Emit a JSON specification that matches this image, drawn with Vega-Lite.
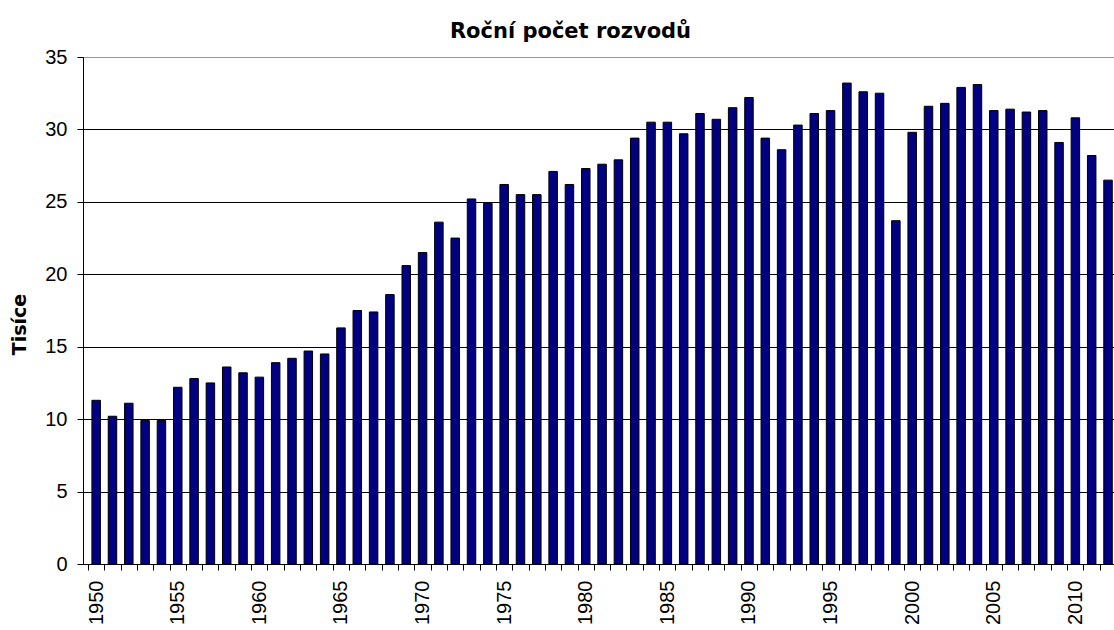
{
  "$schema": "https://vega.github.io/schema/vega-lite/v6.json",
  "autosize": {"type": "none"},
  "width": 1031,
  "height": 507,
  "padding": {"left": 83, "top": 57, "right": 0, "bottom": 66},
  "background": "white",
  "config": {"view": {"stroke": null}},
  "title": {
    "text": "Roční počet rozvodů",
    "font": "DejaVu Sans",
    "fontSize": 21,
    "fontWeight": "bold",
    "color": "black",
    "anchor": "middle",
    "frame": "group",
    "dx": -28,
    "baseline": "alphabetic",
    "offset": -12
  },
  "data": {
    "values": [
      {"year": 1950, "value": 11.3}, {"year": 1951, "value": 10.2}, {"year": 1952, "value": 11.1},
      {"year": 1953, "value": 9.9}, {"year": 1954, "value": 9.9}, {"year": 1955, "value": 12.2},
      {"year": 1956, "value": 12.8}, {"year": 1957, "value": 12.5}, {"year": 1958, "value": 13.6},
      {"year": 1959, "value": 13.2}, {"year": 1960, "value": 12.9}, {"year": 1961, "value": 13.9},
      {"year": 1962, "value": 14.2}, {"year": 1963, "value": 14.7}, {"year": 1964, "value": 14.5},
      {"year": 1965, "value": 16.3}, {"year": 1966, "value": 17.5}, {"year": 1967, "value": 17.4},
      {"year": 1968, "value": 18.6}, {"year": 1969, "value": 20.6}, {"year": 1970, "value": 21.5},
      {"year": 1971, "value": 23.6}, {"year": 1972, "value": 22.5}, {"year": 1973, "value": 25.2},
      {"year": 1974, "value": 24.9}, {"year": 1975, "value": 26.2}, {"year": 1976, "value": 25.5},
      {"year": 1977, "value": 25.5}, {"year": 1978, "value": 27.1}, {"year": 1979, "value": 26.2},
      {"year": 1980, "value": 27.3}, {"year": 1981, "value": 27.6}, {"year": 1982, "value": 27.9},
      {"year": 1983, "value": 29.4}, {"year": 1984, "value": 30.5}, {"year": 1985, "value": 30.5},
      {"year": 1986, "value": 29.7}, {"year": 1987, "value": 31.1}, {"year": 1988, "value": 30.7},
      {"year": 1989, "value": 31.5}, {"year": 1990, "value": 32.2}, {"year": 1991, "value": 29.4},
      {"year": 1992, "value": 28.6}, {"year": 1993, "value": 30.3}, {"year": 1994, "value": 31.1},
      {"year": 1995, "value": 31.3}, {"year": 1996, "value": 33.2}, {"year": 1997, "value": 32.6},
      {"year": 1998, "value": 32.5}, {"year": 1999, "value": 23.7}, {"year": 2000, "value": 29.8},
      {"year": 2001, "value": 31.6}, {"year": 2002, "value": 31.8}, {"year": 2003, "value": 32.9},
      {"year": 2004, "value": 33.1}, {"year": 2005, "value": 31.3}, {"year": 2006, "value": 31.4},
      {"year": 2007, "value": 31.2}, {"year": 2008, "value": 31.3}, {"year": 2009, "value": 29.1},
      {"year": 2010, "value": 30.8}, {"year": 2011, "value": 28.2}, {"year": 2012, "value": 26.5}
    ]
  },
  "mark": {"type": "bar", "orient": "vertical", "size": 8.5, "fill": "#000080", "stroke": "black", "strokeWidth": 1, "clip": true},
  "encoding": {
    "x": {
      "field": "year",
      "type": "quantitative",
      "scale": {"domain": [1949.5, 2012.06], "nice": false, "zero": false},
      "axis": {
        "title": null,
        "values": [1950,1951,1952,1953,1954,1955,1956,1957,1958,1959,1960,1961,1962,1963,1964,1965,1966,1967,1968,1969,1970,1971,1972,1973,1974,1975,1976,1977,1978,1979,1980,1981,1982,1983,1984,1985,1986,1987,1988,1989,1990,1991,1992,1993,1994,1995,1996,1997,1998,1999,2000,2001,2002,2003,2004,2005,2006,2007,2008,2009,2010,2011,2012],
        "tickOffset": -8.24,
        "labelOffset": 8.24,
        "labelExpr": "datum.value % 5 === 0 ? '' + datum.value : ''",
        "labelAngle": 270,
        "labelAlign": "right",
        "labelBaseline": "middle",
        "labelFont": "Liberation Sans",
        "labelFontSize": 20,
        "labelColor": "black",
        "labelPadding": 10,
        "labelOverlap": false,
        "labelFlush": false,
        "labelBound": false,
        "tickSize": 6,
        "tickColor": "black",
        "domainColor": "black",
        "grid": false
      }
    },
    "y": {
      "field": "value",
      "type": "quantitative",
      "scale": {"domain": [0, 35], "nice": false},
      "axis": {
        "title": "Tisíce",
        "titleFont": "DejaVu Sans",
        "titleFontSize": 19,
        "titleFontWeight": "bold",
        "titleColor": "black",
        "titleAngle": 270,
        "titleAlign": "center",
        "titleBaseline": "middle",
        "titleX": -63.5,
        "titleY": 267,
        "values": [0, 5, 10, 15, 20, 25, 30, 35],
        "labelFont": "Liberation Sans",
        "labelFontSize": 20,
        "labelColor": "black",
        "labelPadding": 10,
        "tickSize": 6,
        "tickColor": "black",
        "domainColor": "black",
        "grid": true,
        "gridColor": {"condition": {"test": "datum.value === 35", "value": "#9a9a9a"}, "value": "black"},
        "gridWidth": 1,
        "gridOpacity": 1
      }
    }
  }
}
